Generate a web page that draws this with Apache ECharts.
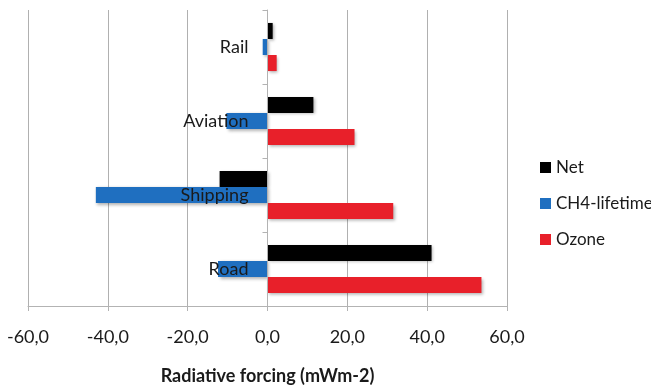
<!DOCTYPE html>
<html>
<head>
<meta charset="utf-8">
<script src="https://cdn.jsdelivr.net/npm/echarts@6/dist/echarts.min.js"></script>
<style>
  html, body { margin: 0; padding: 0; background: #fff; }
  #chart { width: 651px; height: 387px; }
</style>
</head>
<body>
<div id="chart"></div>
<script>
// categories from bottom to top
var categories = ['Road', 'Shipping', 'Aviation', 'Rail'];
var netValues = [41.1, -12.0, 11.5, 1.3];
var ch4Values = [-12.4, -43.0, -10.3, -1.2];
var ozoneValues = [53.6, 31.5, 21.8, 2.3];
var legendNames = ['Net', 'CH4-lifetime', 'Ozone'];

var chart = echarts.init(document.getElementById('chart'));

var barShadow = {
  shadowBlur: 3,
  shadowOffsetX: 1.5,
  shadowOffsetY: 1.5,
  shadowColor: 'rgba(0,0,0,0.3)'
};

function makeBar(name, data, color) {
  return {
    name: name,
    type: 'bar',
    data: data,
    barGap: '0%',
    barCategoryGap: '35%',
    itemStyle: Object.assign({ color: color }, barShadow)
  };
}

var option = {
  animation: false,
  textStyle: { fontFamily: 'Lato' },
  grid: { left: 28, right: 144, top: 10, bottom: 81, containLabel: false, outerBoundsMode: 'none' },
  legend: {
    data: legendNames,
    orient: 'vertical',
    left: 535,
    top: 154,
    itemWidth: 11,
    itemHeight: 11,
    itemGap: 19,
    icon: 'rect',
    textStyle: { fontSize: 17, color: '#1a1a1a', fontFamily: 'Lato' }
  },
  xAxis: {
    type: 'value',
    min: -60,
    max: 60,
    interval: 20,
    name: 'Radiative forcing (mWm-2)',
    nameLocation: 'middle',
    nameGap: 61,
    nameTextStyle: { fontSize: 18, fontWeight: 'bold', color: '#1a1a1a', fontFamily: 'Lato' },
    axisLine: { show: true, lineStyle: { color: '#b3b3b3' } },
    axisTick: { show: true, length: 5, lineStyle: { color: '#b3b3b3' } },
    axisLabel: {
      margin: 22,
      fontSize: 18,
      color: '#1a1a1a',
      fontFamily: 'Lato',
      formatter: function (v) { return v.toFixed(1).replace('.', ','); }
    },
    splitLine: { show: true, lineStyle: { color: '#b0b0b0' } }
  },
  yAxis: {
    type: 'category',
    data: categories,
    z: 5,
    // move the whole category axis (line, ticks, labels) onto x = 0
    offset: -239.5,
    axisLine: { onZero: false, lineStyle: { color: '#b3b3b3' } },
    axisTick: { show: true, length: 5, lineStyle: { color: '#b3b3b3' } },
    axisLabel: { margin: 19, fontSize: 18, color: '#1a1a1a', fontFamily: 'Lato' }
  },
  series: [
    makeBar('Net', netValues, '#000000'),
    makeBar('CH4-lifetime', ch4Values, '#1f6fc0'),
    makeBar('Ozone', ozoneValues, '#e8202a')
  ]
};

chart.setOption(option);
</script>
</body>
</html>
